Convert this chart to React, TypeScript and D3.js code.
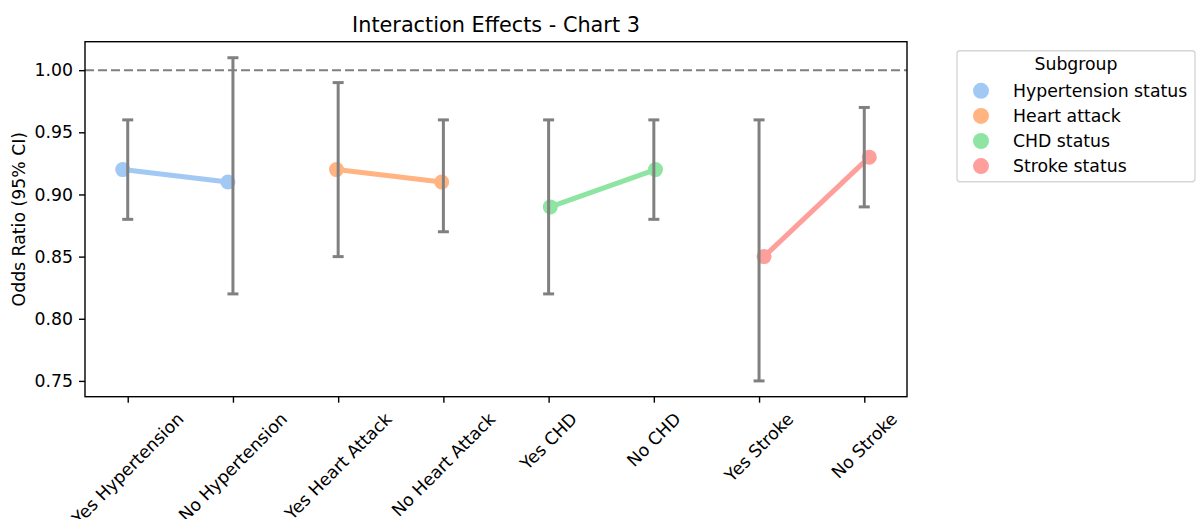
import React, { useRef, useEffect } from 'react';
import * as d3 from 'd3';

const categories = [
  'Yes Hypertension', 'No Hypertension', 'Yes Heart Attack', 'No Heart Attack',
  'Yes CHD', 'No CHD', 'Yes Stroke', 'No Stroke',
];
const subgroups = ['Hypertension status', 'Heart attack', 'CHD status', 'Stroke status'];
const subgroupOf = [0, 0, 1, 1, 2, 2, 3, 3];
const oddsRatios = [0.92, 0.91, 0.92, 0.91, 0.89, 0.92, 0.85, 0.93];
const ciLower = [0.88, 0.82, 0.85, 0.87, 0.82, 0.88, 0.75, 0.89];
const ciUpper = [0.96, 1.01, 0.99, 0.96, 0.96, 0.96, 0.96, 0.97];
const yTicks = [0.75, 0.8, 0.85, 0.9, 0.95, 1.0];

const colors = ['#a1c9f4', '#ffb482', '#8de5a1', '#ff9f9b'];

const W = 1196, H = 519;
const left = 85, right = 907, top = 41.7, bottom = 396.7;
const FONT = 'DejaVu Sans, sans-serif';

const App = () => {
  const svgRef = useRef<SVGSVGElement>(null);

  useEffect(() => {
    const svg = d3.select(svgRef.current);
    svg.selectAll('*').remove();

    const x = d3.scaleLinear().domain([-0.406, 7.406]).range([left, right]);
    const y = d3.scaleLinear().domain([0.7373, 1.0229]).range([bottom, top]);

    // seaborn style hue dodge
    const dodge = 0.095;
    const offs = subgroups.map((_, i) => -dodge / 2 + (dodge * i) / (subgroups.length - 1));

    // reference line at 1
    svg.append('line')
      .attr('x1', left).attr('x2', right)
      .attr('y1', y(1)).attr('y2', y(1))
      .attr('stroke', '#808080').attr('stroke-width', 2)
      .attr('stroke-dasharray', '9,4');

    // connecting lines + points per subgroup
    subgroups.forEach((s, g) => {
      const idx = categories.map((_, i) => i).filter(i => subgroupOf[i] === g);
      const line = d3.line<number>()
        .x(i => x(i + offs[g]))
        .y(i => y(oddsRatios[i]));
      svg.append('path')
        .attr('d', line(idx))
        .attr('fill', 'none')
        .attr('stroke', colors[g])
        .attr('stroke-width', 5);
      svg.selectAll(null)
        .data(idx)
        .join('circle')
        .attr('cx', i => x(i + offs[g]))
        .attr('cy', i => y(oddsRatios[i]))
        .attr('r', 7.5)
        .attr('fill', colors[g]);
    });

    // error bars on top
    const eb = svg.append('g').attr('stroke', '#808080').attr('stroke-width', 3);
    categories.forEach((c, i) => {
      const cx = x(i);
      eb.append('line').attr('x1', cx).attr('x2', cx).attr('y1', y(ciLower[i])).attr('y2', y(ciUpper[i]));
      eb.append('line').attr('x1', cx - 5.5).attr('x2', cx + 5.5).attr('y1', y(ciLower[i])).attr('y2', y(ciLower[i]));
      eb.append('line').attr('x1', cx - 5.5).attr('x2', cx + 5.5).attr('y1', y(ciUpper[i])).attr('y2', y(ciUpper[i]));
    });

    // frame
    svg.append('rect')
      .attr('x', left).attr('y', top)
      .attr('width', right - left).attr('height', bottom - top)
      .attr('fill', 'none').attr('stroke', '#000').attr('stroke-width', 1.4);

    // y axis
    const yAxis = svg.append('g')
      .attr('transform', `translate(${left},0)`)
      .call(d3.axisLeft(y).tickValues(yTicks).tickFormat(d3.format('.2f')).tickSize(6).tickPadding(6));
    yAxis.select('.domain').remove();
    yAxis.selectAll('line').attr('stroke', '#000').attr('stroke-width', 1.4);
    yAxis.selectAll('text').attr('font-family', FONT).attr('font-size', 17.3).attr('fill', '#000');

    // x axis ticks
    const xAxis = svg.append('g')
      .attr('transform', `translate(0,${bottom})`)
      .call(d3.axisBottom(x).tickValues(categories.map((_, i) => i)).tickFormat(() => '').tickSize(6));
    xAxis.select('.domain').remove();
    xAxis.selectAll('line').attr('stroke', '#000').attr('stroke-width', 1.4);

    // rotated x labels, bbox centered on the tick like matplotlib
    const fs = 17.3;
    const labelTop = bottom + 12;
    categories.forEach((c, i) => {
      const t = svg.append('text')
        .attr('font-family', FONT).attr('font-size', fs)
        .attr('text-anchor', 'middle').attr('dy', '0.35em')
        .text(c);
      const w = (t.node() as SVGTextElement).getComputedTextLength();
      const h = fs * 1.164;
      const bh = (w + h) * Math.SQRT1_2;
      t.attr('transform', `translate(${x(i)},${labelTop + bh / 2}) rotate(-45)`);
    });

    // y label
    svg.append('text')
      .attr('transform', `translate(19,${(top + bottom) / 2}) rotate(-90)`)
      .attr('text-anchor', 'middle').attr('dy', '0.35em')
      .attr('font-family', FONT).attr('font-size', 17.3)
      .text('Odds Ratio (95% CI)');

    // title
    svg.append('text')
      .attr('x', (left + right) / 2).attr('y', 31.5)
      .attr('text-anchor', 'middle')
      .attr('font-family', FONT).attr('font-size', 20.8)
      .text('Interaction Effects - Chart 3');

    // legend
    const lg = svg.append('g');
    lg.append('rect')
      .attr('x', 957).attr('y', 50.7).attr('width', 238).attr('height', 131)
      .attr('rx', 3).attr('fill', '#fff').attr('stroke', '#d6d6d6').attr('stroke-width', 1.4);
    lg.append('text')
      .attr('x', 1076).attr('y', 70).attr('text-anchor', 'middle')
      .attr('font-family', FONT).attr('font-size', fs)
      .text('Subgroup');
    subgroups.forEach((s, g) => {
      const ly = 90.8 + g * 25.1;
      lg.append('circle').attr('cx', 981).attr('cy', ly).attr('r', 8).attr('fill', colors[g]);
      lg.append('text')
        .attr('x', 1013).attr('y', ly).attr('dy', '0.35em')
        .attr('font-family', FONT).attr('font-size', fs)
        .text(s);
    });
  }, []);

  return (
    <svg ref={svgRef} width={W} height={H}
      style={{ position: 'absolute', left: 0, top: 0, background: '#fff' }} />
  );
};

export default App;
